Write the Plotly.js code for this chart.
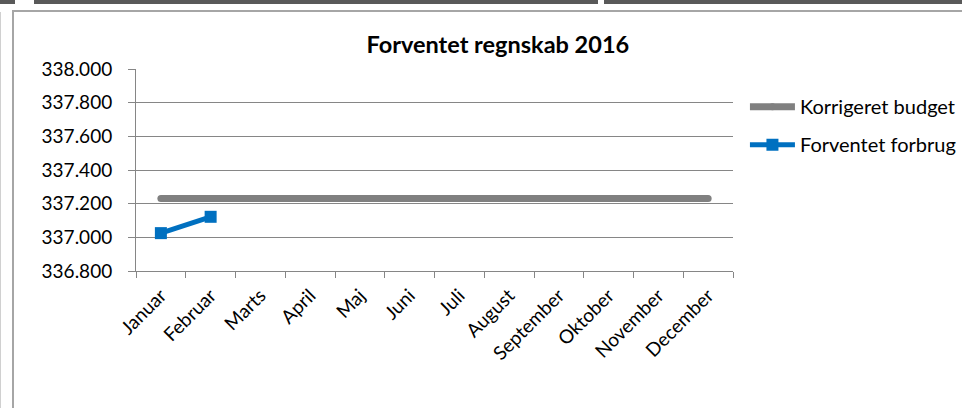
<!DOCTYPE html>
<html>
<head>
<meta charset="utf-8">
<script src="https://cdn.plot.ly/plotly-3.0.1.min.js"></script>
<style>
  html, body { margin: 0; padding: 0; background: #fff; }
  #wrap { position: relative; width: 962px; height: 408px; overflow: hidden; }
  #chart { position: absolute; left: 0; top: 0; width: 962px; height: 408px; }
  .deco { position: absolute; pointer-events: none; z-index: 5; }
</style>
</head>
<body>
<div id="wrap">
  <div id="chart"></div>
  <div class="deco" style="left:0;top:0;width:15px;height:4px;background:#595959"></div>
  <div class="deco" style="left:34px;top:0;width:564px;height:4px;background:#595959"></div>
  <div class="deco" style="left:604px;top:0;width:358px;height:4px;background:#595959"></div>
  <div class="deco" style="left:0;top:12px;width:1px;height:396px;background:#d0d0d0"></div>
  <div class="deco" style="left:12px;top:10px;width:950px;height:2px;background:#a6a6a6"></div>
  <div class="deco" style="left:12px;top:10px;width:2px;height:398px;background:#a6a6a6"></div>
</div>
<script>
const months = ["Januar","Februar","Marts","April","Maj","Juni","Juli","August","September","Oktober","November","December"];
const budgetName = "Korrigeret budget";
const budgetValues = [337.230,337.230,337.230,337.230,337.230,337.230,337.230,337.230,337.230,337.230,337.230,337.230];
const forbrugName = "Forventet forbrug";
const forbrugMonths = ["Januar","Februar"];
const forbrugValues = [337.025, 337.122];
const yTickVals = [336.8, 337.0, 337.2, 337.4, 337.6, 337.8, 338.0];
const yTickText = ["336.800","337.000","337.200","337.400","337.600","337.800","338.000"];
const chartTitle = "Forventet regnskab 2016";

const FONT = "Lato, 'Open Sans', sans-serif";

const traces = [
  {
    x: months, y: budgetValues, name: budgetName, type: "scatter", mode: "lines+markers",
    legendgroup: "a",
    line: {color: "#808080", width: 7},
    marker: {color: "#808080", size: 7, symbol: "circle"},
    hoverinfo: "skip"
  },
  {
    x: forbrugMonths, y: forbrugValues, name: forbrugName, type: "scatter", mode: "lines+markers",
    legendgroup: "b",
    line: {color: "#0070C0", width: 5},
    marker: {color: "#0070C0", size: 12, symbol: "square"},
    hoverinfo: "skip"
  }
];

const layout = {
  width: 962, height: 408,
  margin: {l: 136, r: 229, t: 69, b: 137, pad: 0, autoexpand: false},
  paper_bgcolor: "rgba(0,0,0,0)",
  plot_bgcolor: "rgba(0,0,0,0)",
  font: {family: FONT, size: 18, color: "#000"},
  title: {
    text: "<b>" + chartTitle + "</b>",
    font: {family: FONT, size: 23.5, color: "#000"},
    xref: "paper", x: 0.606, xanchor: "center",
    yref: "container", y: 1 - 45/408, yanchor: "middle"
  },
  showlegend: true,
  legend: {
    x: 1.02, xanchor: "left", y: 0.91, yanchor: "top",
    font: {family: FONT, size: 20, color: "#000"},
    bgcolor: "rgba(0,0,0,0)", itemwidth: 45, tracegroupgap: 9,
    traceorder: "grouped"
  },
  xaxis: {
    type: "category", categoryorder: "array", categoryarray: months,
    range: [-0.5, 11.5],
    showgrid: false, zeroline: false,
    showline: true, linecolor: "#868686", linewidth: 1,
    ticks: "outside", ticklen: 6, tickcolor: "#868686", tickwidth: 1,
    tickson: "boundaries",
    tickangle: -45,
    tickfont: {family: FONT, size: 19, color: "#000"},
    ticklabelstandoff: 5,
    fixedrange: true
  },
  yaxis: {
    range: [336.8, 338.0],
    tickvals: yTickVals, ticktext: yTickText,
    showgrid: true, gridcolor: "#868686", gridwidth: 1,
    zeroline: false,
    showline: true, linecolor: "#868686", linewidth: 1,
    ticks: "outside", ticklen: 7, tickcolor: "#868686", tickwidth: 1,
    tickfont: {family: FONT, size: 19, color: "#000"},
    ticklabelstandoff: 12,
    fixedrange: true
  }
};

Plotly.newPlot("chart", traces, layout, {displayModeBar: false, staticPlot: true});
</script>
</body>
</html>
